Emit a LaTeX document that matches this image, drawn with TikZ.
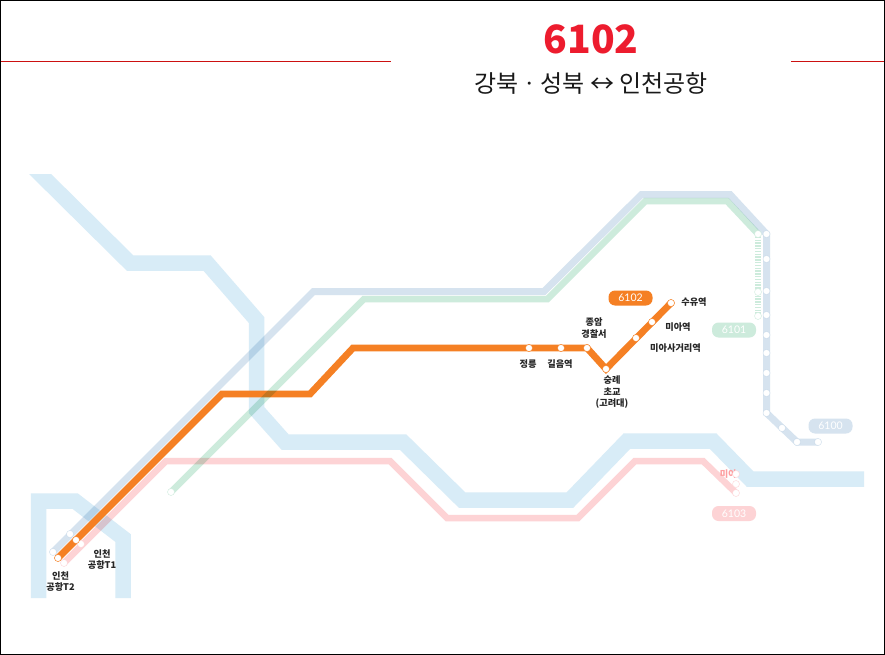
\documentclass[tikz,border=0pt]{standalone}
\usepackage{fontspec}
\setmainfont{Noto Sans CJK KR}
\newfontfamily\latinf{Lato}
\definecolor{cred}{HTML}{ED1C2E}
\definecolor{cline}{HTML}{CC1111}
\definecolor{cband}{HTML}{D8ECF7}
\definecolor{cslate}{HTML}{D6E3EF}
\definecolor{cgreen}{HTML}{CDEBDC}
\definecolor{cpink}{HTML}{FDD3D5}
\definecolor{corange}{HTML}{F58024}
\tikzset{
  route/.style={line join=miter,line cap=butt,blend mode=multiply},
  band/.style={route,draw=cband,line width=15.5pt},
  slate/.style={route,draw=cslate,line width=7pt},
  greenl/.style={route,draw=cgreen,line width=6.5pt},
  pinkl/.style={route,draw=cpink,line width=6.5pt},
  orangel/.style={line join=miter,line cap=butt,draw=corange,line width=6.8pt},
  stn/.style={circle,fill=white,inner sep=0pt,minimum size=7pt,line width=.4pt},
  stnO/.style={stn,draw=corange},
  stnS/.style={stn,draw=cslate},
  stnG/.style={stn,draw=cgreen},
  stnP/.style={stn,draw=cpink},
  lab/.style={font=\bfseries\fontsize{9.2}{11.5}\selectfont,align=center,inner sep=0pt,text=black!85},
  pill/.style={rounded corners=6.5pt,minimum width=44pt,minimum height=15pt,inner sep=0pt,text=white,font=\latinf\fontsize{10.5}{12}\selectfont},
}
\begin{document}
\begin{tikzpicture}[x=1pt,y=-1pt]
\useasboundingbox (0,0) rectangle (885,655);
\fill[white] (0,0) rectangle (885,655);
% header
\coordinate (hl0) at (1,61.5); \coordinate (hl1) at (391,61.5);
\coordinate (hr0) at (791,61.5); \coordinate (hr1) at (884,61.5);
\draw[cline,line width=1pt] (hl0) -- (hl1);
\draw[cline,line width=1pt] (hr0) -- (hr1);
\node[text=cred,font=\bfseries\fontsize{39}{44}\selectfont,inner sep=0pt] (title) at (591,39) {6102};
\node[text=black!90,font=\fontsize{24}{26}\selectfont,inner sep=0pt] (sub) at (591,83) {강북ㆍ성북 ↔ 인천공항};
% wide band
\coordinate (b1) at (31,165); \coordinate (b2) at (130,263); \coordinate (b3) at (207,263);
\coordinate (b4) at (256.5,320); \coordinate (b5) at (256.5,410); \coordinate (b6) at (285,442);
\coordinate (b7) at (403,442); \coordinate (b8) at (462,500); \coordinate (b9) at (570,500);
\coordinate (b10) at (627,441); \coordinate (b11) at (713,441); \coordinate (b12) at (750,479); \coordinate (b13) at (864,479);
\begin{scope}
\clip (0,175) rectangle (885,655);
\draw[band] (b1)--(b2)--(b3)--(b4)--(b5)--(b6)--(b7)--(b8)--(b9)--(b10)--(b11)--(b12)--(b13);
\end{scope}
\coordinate (c1) at (38.5,598); \coordinate (c2) at (38.5,501); \coordinate (c3) at (75,501);
\coordinate (c4) at (123,538); \coordinate (c5) at (123,598);
\draw[band] (c1)--(c2)--(c3)--(c4)--(c5);
% slate 6100
\coordinate (s3) at (313.5,291.5); \coordinate (s4) at (544,291.5); \coordinate (s5) at (641.5,194.5); \coordinate (s6) at (730,194.5);
\node[stnS] (s1) at (53,552) {};
\node[stnS] (s2) at (70,534) {};
\node[stnS] (s7) at (766.5,234) {};
\node[stnS] (s8) at (766.5,259) {};
\node[stnS] (s9) at (766.5,291) {};
\node[stnS] (s10) at (766.5,315) {};
\node[stnS] (s11) at (766.5,335) {};
\node[stnS] (s12) at (766.5,353) {};
\node[stnS] (s13) at (766.5,373) {};
\node[stnS] (s14) at (766.5,393) {};
\node[stnS] (s15) at (766.5,413) {};
\node[stnS] (s16) at (782,428) {};
\node[stnS] (s17) at (797,442) {};
\node[stnS] (s18) at (818,442) {};
\draw[slate] (s1.center)--(s3)--(s4)--(s5)--(s6)--(s7.center)--(s15.center)--(s17.center)--(s18.center);
% pink 6103
\coordinate (p3) at (166,461); \coordinate (p4) at (390,461); \coordinate (p5) at (447,518); \coordinate (p6) at (578,518);
\coordinate (p7) at (635,461); \coordinate (p8) at (703,461); \coordinate (p9) at (736,493);
\coordinate (p1) at (64,563);
\draw[pinkl] (p1)--(p3)--(p4)--(p5)--(p6)--(p7)--(p8)--(p9);
\node[text=cpink!75!red,font=\bfseries\fontsize{9.2}{10}\selectfont,inner sep=0pt,anchor=east] (pt) at (737,474) {미아};
% orange 6102
\coordinate (o2) at (222,394); \coordinate (o3) at (310,394); \coordinate (o4) at (353,348);
\node[stnO] (ot2) at (58,558) {};
\node[stnO] (ot1) at (76,540) {};
\node[stnO] (o5) at (529,348) {};
\node[stnO] (o6) at (561,348) {};
\node[stnO] (o7) at (587,348) {};
\node[stnO] (o8) at (606,369) {};
\node[stnO] (o9) at (636,338) {};
\node[stnO] (o10) at (652,322) {};
\node[stnO] (o11) at (671,303) {};
\draw[orangel] (ot2.center)--(o2)--(o3)--(o4)--(o7.center)--(o8.center)--(o11.center);
% green 6101
\coordinate (g1) at (171,492);
\coordinate (g2) at (364,299); \coordinate (g3) at (547.5,299); \coordinate (g4) at (645.5,201); \coordinate (g5) at (727,201);
\coordinate (g6) at (758,234); \coordinate (g7) at (758,316);
\draw[greenl] (g1)--(g2)--(g3)--(g4)--(g5)--(g6);
\draw[cgreen,line width=6.5pt,dash pattern=on 1.3pt off 1.5pt] (g6)--(g7);
% station dots over their lines
\foreach \n in {s1,s2,s7,s8,s9,s10,s11,s12,s13,s14,s15,s16,s17,s18} \node[stnS] at (\n) {};
\node[stnG] (g1n) at (g1) {};
\node[stnG] (g6n) at (g6) {};
\node[stnG] (g8n) at (758,292) {};
\node[stnG] (g7n) at (g7) {};
\node[stnP] (pa) at (p1) {};
\node[stnP] (pb) at (81,544) {};
\node[stnP] (pc) at (736,474) {};
\node[stnP] (pd) at (736,484) {};
\node[stnP] (pe) at (p9) {};
\foreach \n in {ot2,ot1,o5,o6,o7,o8,o9,o10,o11} \node[stnO] at (\n) {};
% labels
\node[lab] at (528,364) {정릉};
\node[lab] at (560,364) {길음역};
\node[lab] at (594,328) {종암\\경찰서};
\node[lab] at (612,392.5) {숭례\\초교\\(고려대)};
\node[lab] at (694,302) {수유역};
\node[lab] at (678,327) {미아역};
\node[lab] at (675.5,348) {미아사거리역};
\node[lab] at (102,559.5) {인천\\공항T1};
\node[lab] at (60.5,581.5) {인천\\공항T2};
% pills
\node[pill,fill=corange] at (630.5,298) {6102};
\node[pill,fill=cgreen] at (734,330) {6101};
\node[pill,fill=cslate] at (830.5,426) {6100};
\node[pill,fill=cpink] at (734,513.5) {6103};
% frame
\draw[black,line width=1pt] (.5,.5) rectangle (884.5,654.5);
\end{tikzpicture}
\end{document}
